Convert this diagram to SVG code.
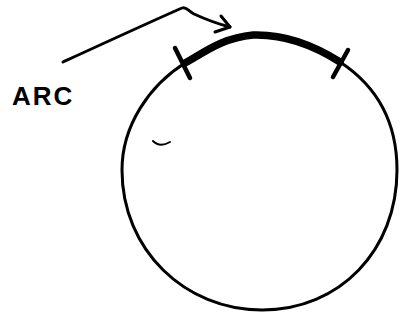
<svg xmlns="http://www.w3.org/2000/svg" width="406" height="325" viewBox="0 0 406 325">
<style>
.ink{fill:none;stroke:#000;stroke-linecap:round;stroke-linejoin:round}
.lbl{font-family:"Liberation Sans",Arial,sans-serif;font-size:26px;font-weight:bold;fill:#000}
</style>
<rect width="406" height="325" fill="#fff"/>
<g id="circle">
<path class="ink" stroke-width="3" d="M185,63 C150,85 122,125 122,170 C122,250 185,310 262,310 C340,310 397,250 397,170 C397,120 375,85 340,62"/>
<path class="ink" stroke-width="2" d="M153,141 C157,145 163,146 170,142"/>
</g>
<g id="arc">
<path class="ink" stroke-width="7.5" d="M185,63 C205,52 222,38 253,35 C285,34 315,46 340,62"/>
<path class="ink" stroke-width="4.5" d="M175,48 L190,78"/>
<path class="ink" stroke-width="4.5" d="M348,50 L333,77"/>
</g>
<g id="label">
<text class="lbl" x="12" y="105" letter-spacing="2">ARC</text>
</g>
<g id="connectors">
<path class="ink" stroke-width="3" d="M63,62 C100,45 150,22 182,8 C186,6 188,11 194,14 C205,19 218,24 230,27"/>
<path class="ink" stroke-width="3" d="M221,16 L230,27 L215,32"/>
</g>
</svg>
